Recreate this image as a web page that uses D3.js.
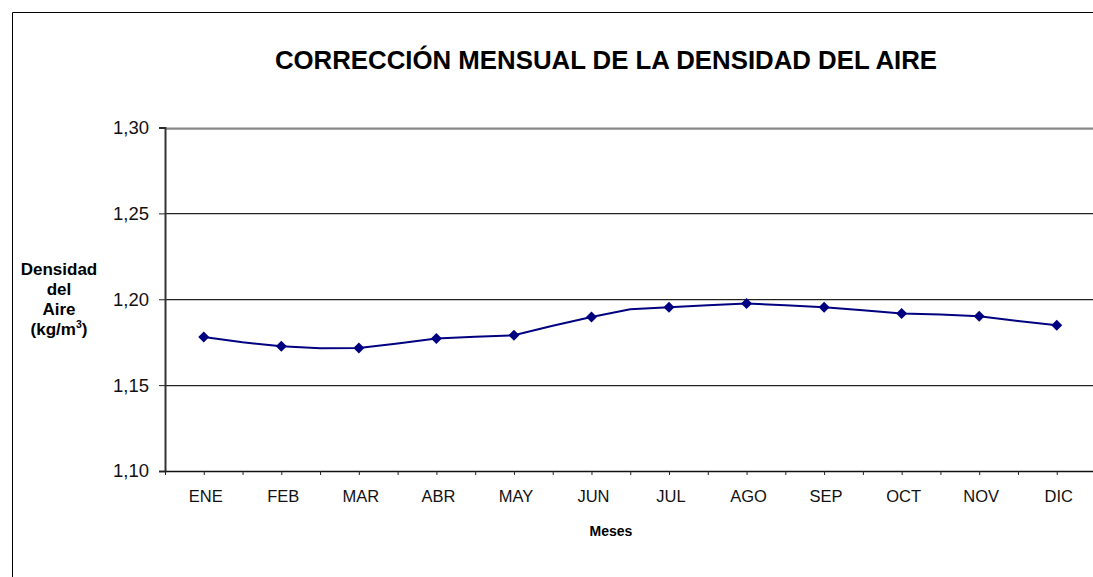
<!DOCTYPE html>
<html>
<head>
<meta charset="utf-8">
<script src="https://cdn.jsdelivr.net/npm/d3@7"></script>
<style>
  html, body { margin: 0; background: #fff; overflow: hidden; }
  svg { display: block; font-family: Arial, "Liberation Sans", sans-serif; }
</style>
</head>
<body>
<svg width="1093" height="577"></svg>
<script>
// meses (etiquetas del eje X)
const months = ['ENE', 'FEB', 'MAR', 'ABR', 'MAY', 'JUN', 'JUL', 'AGO', 'SEP', 'OCT', 'NOV', 'DIC'];
// densidad del aire por mes (kg/m3), puntos con marcador
const density = [1.178, 1.1726, 1.1716, 1.1771, 1.179, 1.1897, 1.1953, 1.1975, 1.1953, 1.1917, 1.1901, 1.1848];
// valores intermedios entre meses (sin marcador)
const midDensity = [1.1749, 1.1715, 1.1743, 1.1782, 1.1846, 1.1942, 1.1965, 1.1965, 1.1936, 1.1911, 1.1874];
const yTicks = [1.10, 1.15, 1.20, 1.25, 1.30];

const svg = d3.select('svg');
const es = d3.formatLocale({ decimal: ',', thousands: '.', grouping: [3], currency: ['', ' €'] });
const fmt = es.format('.2f');

const x = d3.scaleLinear().domain([0, 24]).range([165, 1095.5]);
const y = d3.scaleLinear().domain([1.10, 1.30]).range([471, 127.5]);

// serie completa: mes, intermedio, mes, ...
const series = [];
density.forEach((v, i) => {
    series.push({ pos: 2 * i + 1, value: v, mark: true });
    if (i < midDensity.length) series.push({ pos: 2 * i + 2, value: midDensity[i], mark: false });
});

// marco exterior del gráfico (sólo se ven los bordes superior e izquierdo)
svg.append('path')
    .attr('d', 'M12.5,600V12.5H1100')
    .attr('fill', 'none').attr('stroke', '#000').attr('stroke-width', 1);

// título
svg.append('text')
    .attr('x', 606).attr('y', 69)
    .attr('text-anchor', 'middle')
    .style('font-size', '25.8px').style('font-weight', 'bold')
    .text('CORRECCIÓN MENSUAL DE LA DENSIDAD DEL AIRE');

// líneas de cuadrícula
const grid = svg.append('g');
grid.selectAll('line.shadow')
    .data(yTicks.slice(1))
    .enter().append('line')
    .attr('class', 'shadow')
    .attr('x1', x(0)).attr('x2', x(24))
    .attr('y1', d => Math.round(y(d)) + 1.5).attr('y2', d => Math.round(y(d)) + 1.5)
    .attr('stroke', '#c8c8c8').attr('stroke-width', 1);
grid.selectAll('line.grid')
    .data(yTicks.slice(1))
    .enter().append('line')
    .attr('class', 'grid')
    .attr('x1', x(0)).attr('x2', x(24))
    .attr('y1', d => Math.round(y(d)) + 0.5).attr('y2', d => Math.round(y(d)) + 0.5)
    .attr('stroke', d => d === 1.30 ? '#888' : '#222')
    .attr('stroke-width', d => d === 1.30 ? 2 : 1);

// eje Y
const yAxis = svg.append('g')
    .attr('transform', `translate(${x(0)},0)`)
    .call(d3.axisLeft(y).tickValues(yTicks).tickFormat(fmt).tickSize(6).tickPadding(10));
yAxis.select('.domain').attr('stroke', '#333').attr('stroke-width', 2);
yAxis.selectAll('.tick line').attr('stroke', '#222');
yAxis.selectAll('.tick text')
    .style('font-size', '18.5px').attr('fill', '#111')
    .style('font-family', 'Arial, "Liberation Sans", sans-serif');

// eje X (marcas cada medio mes)
const xAxis = svg.append('g')
    .attr('transform', `translate(0,${y(1.10)})`)
    .call(d3.axisBottom(x).tickValues(d3.range(0, 24)).tickFormat('').tickSize(4).tickSizeOuter(0));
xAxis.select('.domain').attr('stroke', '#111').attr('stroke-width', 1.5);
xAxis.selectAll('.tick line').attr('stroke', '#222');

svg.append('g').selectAll('text')
    .data(months)
    .enter().append('text')
    .attr('x', (d, i) => x(2 * i + 1) + 2)
    .attr('y', 502)
    .attr('text-anchor', 'middle')
    .style('font-size', '16.5px').attr('fill', '#111')
    .text(d => d);

// títulos de ejes
svg.append('text')
    .attr('x', 611).attr('y', 536)
    .attr('text-anchor', 'middle')
    .style('font-size', '14px').style('font-weight', 'bold')
    .text('Meses');

const yTitle = svg.append('text')
    .attr('text-anchor', 'middle')
    .style('font-size', '17px').style('font-weight', 'bold');
['Densidad', 'del', 'Aire'].forEach((t, i) => {
    yTitle.append('tspan').attr('x', 59).attr('y', 275 + i * 20).text(t);
});
const lastLine = yTitle.append('tspan').attr('x', 59).attr('y', 335).text('(kg/m');
lastLine.append('tspan').attr('dy', -7).style('font-size', '10.5px').text('3');
yTitle.append('tspan').attr('dy', 7).text(')');

// línea de la serie
const line = d3.line().x(d => x(d.pos)).y(d => y(d.value));
svg.append('path')
    .datum(series)
    .attr('d', line)
    .attr('fill', 'none')
    .attr('stroke', '#000080')
    .attr('stroke-width', 2);

// marcadores en rombo
svg.append('g').selectAll('path')
    .data(series.filter(d => d.mark))
    .enter().append('path')
    .attr('transform', d => `translate(${x(d.pos)},${y(d.value)})`)
    .attr('d', 'M0,-5.5L5.5,0L0,5.5L-5.5,0Z')
    .attr('fill', '#000080');
</script>
</body>
</html>
